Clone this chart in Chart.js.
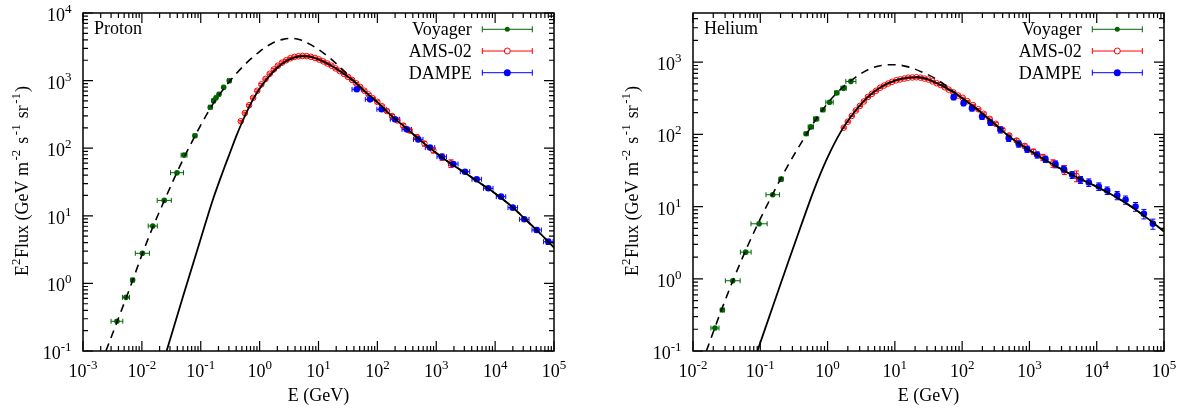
<!DOCTYPE html>
<html>
<head>
<meta charset="utf-8">
<script src="https://cdn.jsdelivr.net/npm/chart.js@4.4.1/dist/chart.umd.min.js"></script>
<style>
  html, body { margin: 0; padding: 0; background: #fff; }
  #wrap { position: relative; width: 1186px; height: 413px; }
  .panel { position: absolute; top: 0; width: 593px; height: 413px; }
</style>
</head>
<body>
<div id="wrap">
  <div class="panel" style="left:0"><canvas id="proton" width="593" height="413"></canvas></div>
  <div class="panel" style="left:593px"><canvas id="helium" width="593" height="413"></canvas></div>
</div>
<script>
// ---------- Proton (E in GeV, E^2 Flux) ----------
const pVoyE = [0.00377, 0.00537, 0.00698, 0.0102, 0.0153, 0.0240, 0.0395, 0.052, 0.0798, 0.145, 0.166, 0.182, 0.204, 0.245, 0.305];
const pVoyF = [0.275, 0.622, 1.12, 2.79, 7.06, 16.9, 43.4, 79, 153, 403, 505, 558, 627, 796, 996];
const pVoyDex = [0.10, 0.06, 0.03, 0.12, 0.077, 0.12, 0.11, 0.05, 0.03, 0.03, 0.03, 0.02, 0.02, 0.02, 0.03];

const pAmsE = [0.479, 0.562, 0.661, 0.776, 0.912, 1.07, 1.26, 1.48, 1.74, 2.04, 2.40, 2.82, 3.31, 3.89, 4.57,
  5.37, 6.31, 7.41, 8.71, 10.2, 12.0, 14.1, 16.6, 19.5, 22.9, 26.9, 31.6, 37.2, 43.7, 51.3,
  60.3, 70.8, 83.2, 100, 120, 145, 178, 219, 275, 355, 468, 631, 891, 1259, 1778];
const pAmsF = [251, 331, 432, 556, 708, 881, 1059, 1259, 1462, 1660, 1841, 1995, 2138, 2239, 2291,
  2317, 2301, 2249, 2163, 2051, 1928, 1791, 1660, 1514, 1387, 1259, 1135, 1023, 912, 804,
  708, 624, 550, 484, 417, 355, 299, 257, 216, 182, 146, 117, 93.3, 74.1, 59.6];
const pAmsErr = [0.03, 0.03, 0.03, 0.03, 0.03, 0.03, 0.03, 0.03, 0.03, 0.03, 0.03, 0.03, 0.03, 0.03, 0.03,
  0.03, 0.03, 0.03, 0.03, 0.03, 0.03, 0.03, 0.03, 0.03, 0.03, 0.03, 0.03, 0.03, 0.03, 0.03,
  0.03, 0.03, 0.03, 0.04, 0.04, 0.04, 0.05, 0.05, 0.06, 0.06, 0.07, 0.08, 0.09, 0.11, 0.13];

const pDamE = [44.6, 75, 118, 199, 315, 495, 783, 1238, 1950, 3078, 4864, 7656, 12590, 19900, 31300, 50800, 80000];
const pDamF = [743, 528, 376, 268, 190, 135, 102, 74.8, 58.4, 44.9, 34.7, 25.5, 19.2, 13.2, 8.87, 6.17, 4.14];
const pDamDex = [0.08, 0.08, 0.08, 0.08, 0.08, 0.08, 0.08, 0.08, 0.08, 0.08, 0.08, 0.08, 0.08, 0.08, 0.08, 0.08, 0.08];
const pDamErr = [0.02, 0.02, 0.02, 0.02, 0.02, 0.02, 0.02, 0.02, 0.03, 0.03, 0.03, 0.04, 0.04, 0.05, 0.06, 0.07, 0.09];

// modulated model (solid) and LIS (dashed)
const pModE = [0.0263, 0.0501, 0.1, 0.158, 0.251, 0.316, 0.398, 0.501, 0.631, 0.794, 1, 1.26, 1.58, 2.0, 2.51, 3.16, 3.98, 5.01, 6.31, 7.94,
  10, 15.8, 25.1, 39.8, 63.1, 100, 178, 316, 562, 1000, 1778, 3162, 5623, 1e4, 17783, 31623, 56234, 1e5];
const pModF = [0.1, 0.646, 4.57, 16.6, 51.3, 87.1, 148, 240, 372, 550, 759, 1000, 1259, 1549, 1820, 2042, 2213, 2291, 2291, 2213,
  2065, 1698, 1318, 977, 676, 479, 295, 195, 126, 85.1, 58.9, 42.7, 30.2, 21.4, 14.5, 9.12, 5.62, 3.39];
const pLisE = [0.00245, 0.00398, 0.00631, 0.01, 0.0158, 0.0251, 0.0398, 0.0631, 0.1, 0.158, 0.251, 0.398, 0.631, 1, 1.58, 2.51, 3.55, 5.01, 7.08,
  10, 15.8, 25.1, 39.8, 63.1, 100, 178, 316, 562, 1000, 1778, 3162, 5623, 1e4, 17783, 31623, 56234, 1e5];
const pLisF = [0.1, 0.302, 0.871, 2.63, 7.24, 18.2, 44.7, 102, 219, 437, 776, 1259, 1905, 2692, 3508, 4074, 4217, 3981, 3467,
  2884, 2138, 1479, 989, 676, 479, 295, 195, 126, 85.1, 58.9, 42.7, 30.2, 21.4, 14.5, 9.12, 5.62, 3.39];

// ---------- Helium ----------
const hVoyE = [0.0212, 0.0273, 0.039, 0.0608, 0.0959, 0.153, 0.204, 0.481, 0.564, 0.676, 0.851, 1.07, 1.37, 1.73, 2.22];
const hVoyF = [0.208, 0.369, 0.94, 2.34, 5.78, 14.6, 24.0, 102, 127, 164, 219, 279, 376, 437, 542];
const hVoyDex = [0.06, 0.03, 0.11, 0.08, 0.12, 0.10, 0.03, 0.03, 0.04, 0.04, 0.03, 0.055, 0.03, 0.04, 0.075];

const hAmsE = [1.74, 2.00, 2.29, 2.63, 3.02, 3.47, 3.98, 4.57, 5.25, 6.03, 6.92, 7.94, 9.12, 10.5, 12.0,
  13.8, 15.8, 18.2, 20.9, 24.0, 27.5, 31.6, 36.3, 41.7, 47.9, 55.0, 63.1, 74.1, 87.1, 102,
  120, 145, 174, 209, 257, 316, 398, 501, 646, 851, 1148, 1585, 2239, 3311, 5012];
const hAmsF = [124, 150, 180, 214, 248, 286, 331, 365, 402, 443, 475, 505, 535, 561, 577,
  593, 610, 614, 618, 611, 593, 575, 542, 512, 483, 450, 417, 382, 345, 321,
  288, 255, 223, 193, 164, 140, 116, 96.6, 82.2, 69.0, 57.7, 48.1, 39.7, 32.4, 26.6];
const hAmsErr = [0.02, 0.02, 0.02, 0.02, 0.02, 0.02, 0.02, 0.02, 0.02, 0.02, 0.02, 0.02, 0.02, 0.02, 0.02,
  0.02, 0.02, 0.02, 0.02, 0.02, 0.02, 0.02, 0.02, 0.02, 0.02, 0.02, 0.02, 0.02, 0.02, 0.02,
  0.02, 0.02, 0.02, 0.03, 0.03, 0.04, 0.04, 0.05, 0.06, 0.07, 0.08, 0.10, 0.12, 0.14, 0.17];

const hDamE = [74.8, 105, 140, 198, 263, 370, 492, 693, 925, 1303, 1730, 2438, 3236, 4315, 5741, 7621, 10740, 14320, 20180, 26850, 37760, 50230, 68390];
const hDamF = [328, 271, 231, 177, 146, 116, 88.7, 73.9, 62.5, 52.1, 45.4, 38.7, 33.0, 27.5, 23.5, 21.6, 19.0, 16.7, 14.3, 12.4, 10.0, 7.94, 5.78];
const hDamErr = [0.08, 0.08, 0.09, 0.09, 0.09, 0.10, 0.10, 0.10, 0.10, 0.10, 0.10, 0.11, 0.11, 0.11, 0.11, 0.12, 0.12, 0.12, 0.13, 0.13, 0.14, 0.15, 0.16];

const hModE = [0.0906, 0.158, 0.251, 0.398, 0.631, 1, 1.585, 2.512, 3.981, 6.31, 10, 15.85, 22.4, 31.6, 50.1, 79.4,
  158, 316, 501, 1000, 1995, 3981, 7943, 15849, 31623, 56234, 1e5];
const hModF = [0.1, 0.447, 1.55, 5.25, 17.2, 47.9, 110, 204, 331, 457, 556, 610, 619, 575, 473, 367,
  232, 135, 93.3, 60.3, 40.7, 28.5, 20.9, 15.1, 10.2, 6.92, 4.52];
const hLisE = [0.0158, 0.0251, 0.0398, 0.0631, 0.1, 0.158, 0.251, 0.398, 0.631, 1, 1.585, 2.512, 3.981, 6.31, 10, 15.85, 25.1, 39.8, 63.1, 100,
  158, 316, 501, 1000, 1995, 3981, 7943, 15849, 31623, 56234, 1e5];
const hLisF = [0.1, 0.324, 0.977, 2.69, 6.76, 15.8, 35.5, 74.1, 148, 269, 427, 603, 785, 902, 923, 861, 733, 596, 442, 316,
  232, 135, 93.3, 60.3, 40.7, 28.5, 20.9, 15.1, 10.2, 6.92, 4.52];

// ---------- axes ----------
const pXDecades = [1e-3, 1e-2, 0.1, 1, 10, 100, 1e3, 1e4, 1e5];
const pYDecades = [0.1, 1, 10, 100, 1e3, 1e4];
const hXDecades = [1e-2, 0.1, 1, 10, 100, 1e3, 1e4, 1e5];
const hYDecades = [0.1, 1, 10, 100, 1e3];
const minorSteps = [2, 3, 4, 5, 6, 7, 8, 9];
const legendNames = ['Voyager', 'AMS-02', 'DAMPE'];

const SERIF = '"Liberation Serif", "Times New Roman", serif';
const GREEN = '#006400', RED = '#ff0000', BLUE = '#0000ff';

function pts(xs, ys) { return xs.map((x, i) => ({ x: x, y: ys[i] })); }

function tickList(decades, max) {
  const out = [];
  decades.forEach(d => {
    out.push(d);
    minorSteps.forEach(m => { if (m * d <= max) out.push(m * d); });
  });
  return out.filter(v => v <= max * 1.0001).map(v => ({ value: v }));
}

function isDecade(v) {
  const l = Math.log10(v);
  return Math.abs(l - Math.round(l)) < 1e-6;
}

// "10" with raised exponent
function drawPow(ctx, v, x, y, align) {
  const e = String(Math.round(Math.log10(v)));
  ctx.font = '18px ' + SERIF;
  const w1 = ctx.measureText('10').width;
  ctx.font = '13px ' + SERIF;
  const w2 = ctx.measureText(e).width;
  const x0 = align === 'center' ? x - (w1 + w2) / 2 : x - (w1 + w2);
  ctx.font = '18px ' + SERIF;
  ctx.fillText('10', x0, y);
  ctx.font = '13px ' + SERIF;
  ctx.fillText(e, x0 + w1, y - 8);
}

// text pieces: [text, superscript?, gap after]
function drawRich(ctx, parts, x, y, big, small) {
  let cx = x;
  parts.forEach(([t, sup, gap]) => {
    ctx.font = (sup ? small : big) + 'px ' + SERIF;
    ctx.fillText(t, cx, sup ? y - 8 : y);
    cx += ctx.measureText(t).width + (gap || 0);
  });
}

// error bars under the markers
const errorBars = {
  id: 'errorBars',
  beforeDatasetsDraw(chart) {
    const { ctx, chartArea: a, scales: { x, y } } = chart;
    ctx.save();
    ctx.beginPath();
    ctx.rect(a.left, a.top, a.right - a.left, a.bottom - a.top);
    ctx.clip();
    chart.data.datasets.forEach(ds => {
      if (!ds.errX && !ds.errY) return;
      ctx.strokeStyle = ds.borderColor;
      ctx.lineWidth = 1;
      ctx.beginPath();
      ds.data.forEach((p, i) => {
        const cx = x.getPixelForValue(p.x), cy = y.getPixelForValue(p.y);
        if (ds.errX && ds.errX[i]) {
          const f = Math.pow(10, ds.errX[i]);
          const x0 = x.getPixelForValue(p.x / f), x1 = x.getPixelForValue(p.x * f);
          ctx.moveTo(x0, cy); ctx.lineTo(x1, cy);
          ctx.moveTo(x0, cy - 2.5); ctx.lineTo(x0, cy + 2.5);
          ctx.moveTo(x1, cy - 2.5); ctx.lineTo(x1, cy + 2.5);
        }
        if (ds.errY && ds.errY[i]) {
          const y0 = y.getPixelForValue(p.y * (1 - ds.errY[i])), y1 = y.getPixelForValue(p.y * (1 + ds.errY[i]));
          ctx.moveTo(cx, y0); ctx.lineTo(cx, y1);
          ctx.moveTo(cx - 2.5, y0); ctx.lineTo(cx + 2.5, y0);
          ctx.moveTo(cx - 2.5, y1); ctx.lineTo(cx + 2.5, y1);
        }
      });
      ctx.stroke();
    });
    ctx.restore();
  }
};

// gnuplot-like frame: inward ticks on all sides, labels, titles, legend
const frame = {
  id: 'frame',
  afterDraw(chart, args, o) {
    const { ctx, chartArea: a, scales: { x, y } } = chart;
    ctx.save();
    ctx.strokeStyle = '#000';
    ctx.fillStyle = '#000';
    ctx.lineWidth = 1.2;
    ctx.beginPath();
    x.ticks.forEach(t => {
      const px = x.getPixelForValue(t.value);
      const len = isDecade(t.value) ? 10 : 5;
      ctx.moveTo(px, a.bottom); ctx.lineTo(px, a.bottom - len);
      ctx.moveTo(px, a.top); ctx.lineTo(px, a.top + len);
    });
    y.ticks.forEach(t => {
      const py = y.getPixelForValue(t.value);
      const len = isDecade(t.value) ? 10 : 5;
      ctx.moveTo(a.left, py); ctx.lineTo(a.left + len, py);
      ctx.moveTo(a.right, py); ctx.lineTo(a.right - len, py);
    });
    ctx.stroke();
    ctx.lineWidth = 1.5;
    ctx.strokeRect(a.left, a.top, a.right - a.left, a.bottom - a.top);

    // tick labels
    ctx.textAlign = 'left';
    ctx.textBaseline = 'alphabetic';
    x.ticks.filter(t => isDecade(t.value)).forEach(t => {
      drawPow(ctx, t.value, x.getPixelForValue(t.value), a.bottom + 26, 'center');
    });
    y.ticks.filter(t => isDecade(t.value)).forEach(t => {
      drawPow(ctx, t.value, a.left - 11.5, y.getPixelForValue(t.value) + 8, 'right');
    });

    // axis titles
    ctx.font = '18px ' + SERIF;
    const xt = 'E (GeV)';
    ctx.fillText(xt, (a.left + a.right) / 2 - ctx.measureText(xt).width / 2, 401);
    ctx.save();
    ctx.translate(a.left - 55, 276);
    ctx.rotate(-Math.PI / 2);
    drawRich(ctx, [['E', 0, 0], ['2', 1, 0.5], ['Flux (GeV m', 0, 1.5], ['-2', 1, 1.5], [' s', 0, 1.5], ['-1', 1, 1.5],
      [' sr', 0, 1.5], ['-1', 1, 1], [')', 0, 0]], 0, 0, 18, 13);
    ctx.restore();

    // panel name
    ctx.font = '18px ' + SERIF;
    ctx.fillText(o.name, a.left + 11, 34);

    // legend
    const colors = [GREEN, RED, BLUE];
    legendNames.forEach((nm, i) => {
      const ly = 29.3 + i * 21.7;
      const l0 = a.right - 71.7, l1 = a.right - 21.7, lc = (l0 + l1) / 2;
      ctx.font = '18px ' + SERIF;
      ctx.fillStyle = '#000';
      ctx.fillText(nm, a.right - 82.3 - ctx.measureText(nm).width, ly + 6);
      ctx.strokeStyle = colors[i];
      ctx.fillStyle = colors[i];
      ctx.lineWidth = 1;
      ctx.beginPath();
      ctx.moveTo(l0, ly); ctx.lineTo(l1, ly);
      ctx.moveTo(l0, ly - 3); ctx.lineTo(l0, ly + 3);
      ctx.moveTo(l1, ly - 3); ctx.lineTo(l1, ly + 3);
      ctx.stroke();
      ctx.beginPath();
      if (i === 1) {
        ctx.fillStyle = '#fff';
        ctx.arc(lc, ly, 3, 0, Math.PI * 2);
        ctx.fill();
        ctx.stroke();
      } else {
        ctx.arc(lc, ly, i === 0 ? 2.5 : 3.5, 0, Math.PI * 2);
        ctx.fill();
      }
    });
    ctx.restore();
  }
};

function lineSet(xs, ys, dash) {
  return {
    data: pts(xs, ys), showLine: true, borderColor: '#000', borderWidth: dash ? 1.6 : 1.8,
    borderDash: dash ? [8, 6] : [], pointRadius: 0, cubicInterpolationMode: 'monotone', fill: false
  };
}

function makePanel(id, spec) {
  return new Chart(document.getElementById(id), {
    type: 'scatter',
    data: {
      datasets: [
        lineSet(spec.modE, spec.modF, false),
        lineSet(spec.lisE, spec.lisF, true),
        { data: pts(spec.damE, spec.damF), pointRadius: 3.3, backgroundColor: BLUE, borderColor: BLUE, borderWidth: 0,
          errX: spec.damDex, errY: spec.damErr },
        { data: pts(spec.amsE, spec.amsF), pointRadius: 2.8, backgroundColor: 'rgba(255,255,255,0)', borderColor: RED, borderWidth: 1,
          errY: spec.amsErr },
        { data: pts(spec.voyE, spec.voyF), pointRadius: 2.8, backgroundColor: GREEN, borderColor: GREEN, borderWidth: 0,
          errX: spec.voyDex }
      ]
    },
    options: {
      responsive: false,
      animation: false,
      layout: { padding: { left: 0, top: 13, right: spec.padRight, bottom: 0 } },
      plugins: { legend: { display: false }, tooltip: { enabled: false }, frame: { name: spec.name } },
      scales: {
        x: {
          type: 'logarithmic', position: 'bottom', min: spec.xDec[0], max: spec.xDec[spec.xDec.length - 1],
          afterBuildTicks: s => { s.ticks = tickList(spec.xDec, spec.xDec[spec.xDec.length - 1]); },
          afterFit: s => { s.height = 62; },
          ticks: { display: false }, grid: { display: false }, border: { display: false }
        },
        y: {
          type: 'logarithmic', position: 'left', min: 0.1, max: spec.yMax,
          afterBuildTicks: s => { s.ticks = tickList(spec.yDec, spec.yMax); },
          afterFit: s => { s.width = spec.yWidth; },
          ticks: { display: false }, grid: { display: false }, border: { display: false }
        }
      }
    },
    plugins: [errorBars, frame]
  });
}

makePanel('proton', {
  name: 'Proton', xDec: pXDecades, yDec: pYDecades, yMax: 1e4, yWidth: 83, padRight: 39,
  voyE: pVoyE, voyF: pVoyF, voyDex: pVoyDex,
  amsE: pAmsE, amsF: pAmsF, amsErr: pAmsErr,
  damE: pDamE, damF: pDamF, damDex: pDamDex, damErr: pDamErr,
  modE: pModE, modF: pModF, lisE: pLisE, lisF: pLisF
});

makePanel('helium', {
  name: 'Helium', xDec: hXDecades, yDec: hYDecades, yMax: 4800, yWidth: 100, padRight: 22,
  voyE: hVoyE, voyF: hVoyF, voyDex: hVoyDex,
  amsE: hAmsE, amsF: hAmsF, amsErr: hAmsErr,
  damE: hDamE, damF: hDamF, damDex: null, damErr: hDamErr,
  modE: hModE, modF: hModF, lisE: hLisE, lisF: hLisF
});
</script>
</body>
</html>
